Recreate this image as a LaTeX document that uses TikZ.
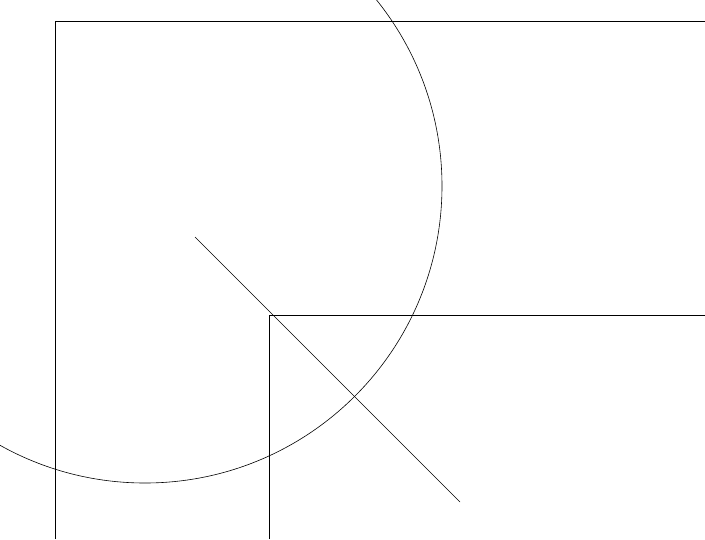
\documentclass[tikz,border=0pt]{standalone}
\begin{document}
\begin{tikzpicture}[x=1pt,y=-1pt,line width=0.6pt]
\useasboundingbox (0,0) rectangle (705,539);
\begin{scope}
\clip (0,0) rectangle (705,539);
\draw (55,539) -- (55,21.5) -- (705,21.5);
\draw (269.5,539) -- (269.5,315.5) -- (705,315.5);
\draw (145,186) circle (297);
\draw (195,237) -- (460,502);
\end{scope}
\end{tikzpicture}
\end{document}
